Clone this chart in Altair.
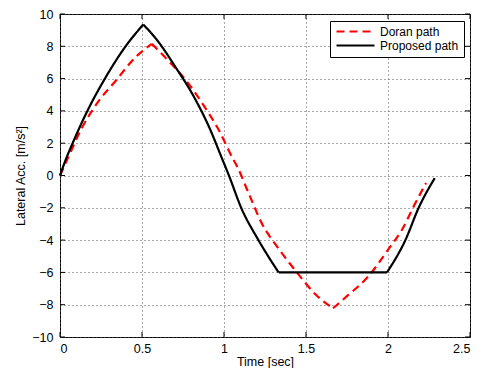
import altair as alt
import pandas as pd

# Doran path (red dashed)
doran_t = [0.0, 0.05, 0.13, 0.23, 0.34, 0.46, 0.56, 0.66, 0.77, 0.87, 0.97, 1.05, 1.08,
           1.15, 1.23, 1.33, 1.44, 1.56, 1.665, 1.76, 1.88, 2.00, 2.085, 2.167, 2.232]
doran_a = [0.0, 1.12, 2.88, 4.53, 5.87, 7.32, 8.15, 7.11, 5.87, 4.43, 2.78, 1.12, 0.56,
           -1.09, -2.95, -4.49, -5.94, -7.38, -8.22, -7.38, -6.25, -4.6, -3.36, -1.71, -0.47]
doran_breaks = [0, 6, 18, 24]          # indices of start, peak, trough, end

# Proposed path (black solid)
prop_t = [0.0, 0.03, 0.077, 0.167, 0.274, 0.40, 0.508, 0.602, 0.705, 0.807, 0.910, 0.992,
          1.03, 1.105, 1.21, 1.333, 1.994, 2.106, 2.187, 2.285]
prop_a = [0.0, 0.85, 2.0, 4.0, 6.0, 8.0, 9.35, 8.25, 6.70, 5.05, 2.98, 0.95,
          0.0, -2.0, -4.0, -6.0, -6.0, -4.0, -2.0, -0.16]
prop_breaks = [0, 6, 15, 16, 19]       # indices of start, peak, corners, end

series_names = ["Doran path", "Proposed path"]
series_colors = ["#ff0000", "#000000"]
series_dash = [[8, 5], [1, 0]]
x_ticks = [0, 0.5, 1, 1.5, 2, 2.5]
y_ticks = [-10, -8, -6, -4, -2, 0, 2, 4, 6, 8, 10]


def segments(name, ts, vs, breaks):
    rows = []
    for s in range(len(breaks) - 1):
        for i in range(breaks[s], breaks[s + 1] + 1):
            rows.append({"t": ts[i], "a": vs[i], "series": name,
                         "seg": f"{name}-{s}", "ord": i})
    return rows


df = pd.DataFrame(segments(series_names[0], doran_t, doran_a, doran_breaks)
                  + segments(series_names[1], prop_t, prop_a, prop_breaks))
xt = pd.DataFrame({"t": x_ticks})
yt = pd.DataFrame({"a": y_ticks})

W, H = 410, 323
TL = 5
xscale = alt.Scale(domain=[0, 2.5], nice=False, zero=False)
yscale = alt.Scale(domain=[-10, 10], nice=False, zero=False)

xaxis = alt.Axis(values=x_ticks, format=".4~r", title="Time [sec]", grid=True,
                 ticks=False, domain=False, labelPadding=5, titlePadding=1)
yaxis = alt.Axis(values=y_ticks, format=".4~r", title="Lateral Acc. [m/s²]", grid=True,
                 ticks=False, domain=False, labelPadding=7, titlePadding=4)

lines = alt.Chart(df).mark_line(strokeWidth=2.2, interpolate="monotone").encode(
    x=alt.X("t:Q", scale=xscale, axis=xaxis),
    y=alt.Y("a:Q", scale=yscale, axis=yaxis),
    color=alt.Color("series:N", scale=alt.Scale(domain=series_names, range=series_colors),
                    legend=alt.Legend(title=None)),
    strokeDash=alt.StrokeDash("series:N", scale=alt.Scale(domain=series_names, range=series_dash),
                              legend=alt.Legend(title=None)),
    detail="seg:N",
    order="ord:Q",
)

tick_bottom = alt.Chart(xt).mark_rule(color="black", strokeWidth=1).encode(
    x=alt.X("t:Q", scale=xscale, axis=xaxis), y=alt.value(H), y2=alt.value(H - TL))
tick_top = alt.Chart(xt).mark_rule(color="black", strokeWidth=1).encode(
    x=alt.X("t:Q", scale=xscale, axis=xaxis), y=alt.value(0), y2=alt.value(TL))
tick_left = alt.Chart(yt).mark_rule(color="black", strokeWidth=1).encode(
    y=alt.Y("a:Q", scale=yscale, axis=yaxis), x=alt.value(0), x2=alt.value(TL))
tick_right = alt.Chart(yt).mark_rule(color="black", strokeWidth=1).encode(
    y=alt.Y("a:Q", scale=yscale, axis=yaxis), x=alt.value(W), x2=alt.value(W - TL))

chart = alt.layer(lines, tick_bottom, tick_top, tick_left, tick_right).properties(
    width=W, height=H,
    padding={"left": 52, "top": 6, "right": 6, "bottom": 31},
    autosize=alt.AutoSizeParams(type="none"),
).configure_view(
    stroke="black", strokeWidth=1
).configure_axis(
    labelFont="Liberation Sans", labelFontSize=12.5, labelColor="black",
    titleFont="Liberation Sans", titleFontSize=12.5, titleFontWeight="normal", titleColor="black",
    gridColor="#555555", gridDash=[1, 3], gridOpacity=1, gridWidth=1,
).configure_legend(
    orient="none", legendX=270, legendY=7,
    symbolType="stroke", symbolSize=1444, symbolStrokeWidth=2.2,
    clipHeight=11, rowPadding=1, padding=5, labelOffset=4,
    labelFont="Liberation Sans", labelFontSize=12, labelColor="black",
    strokeColor="black", fillColor="white", cornerRadius=0,
)

chart.save("out.html", embed_options={"renderer": "svg", "actions": False})
